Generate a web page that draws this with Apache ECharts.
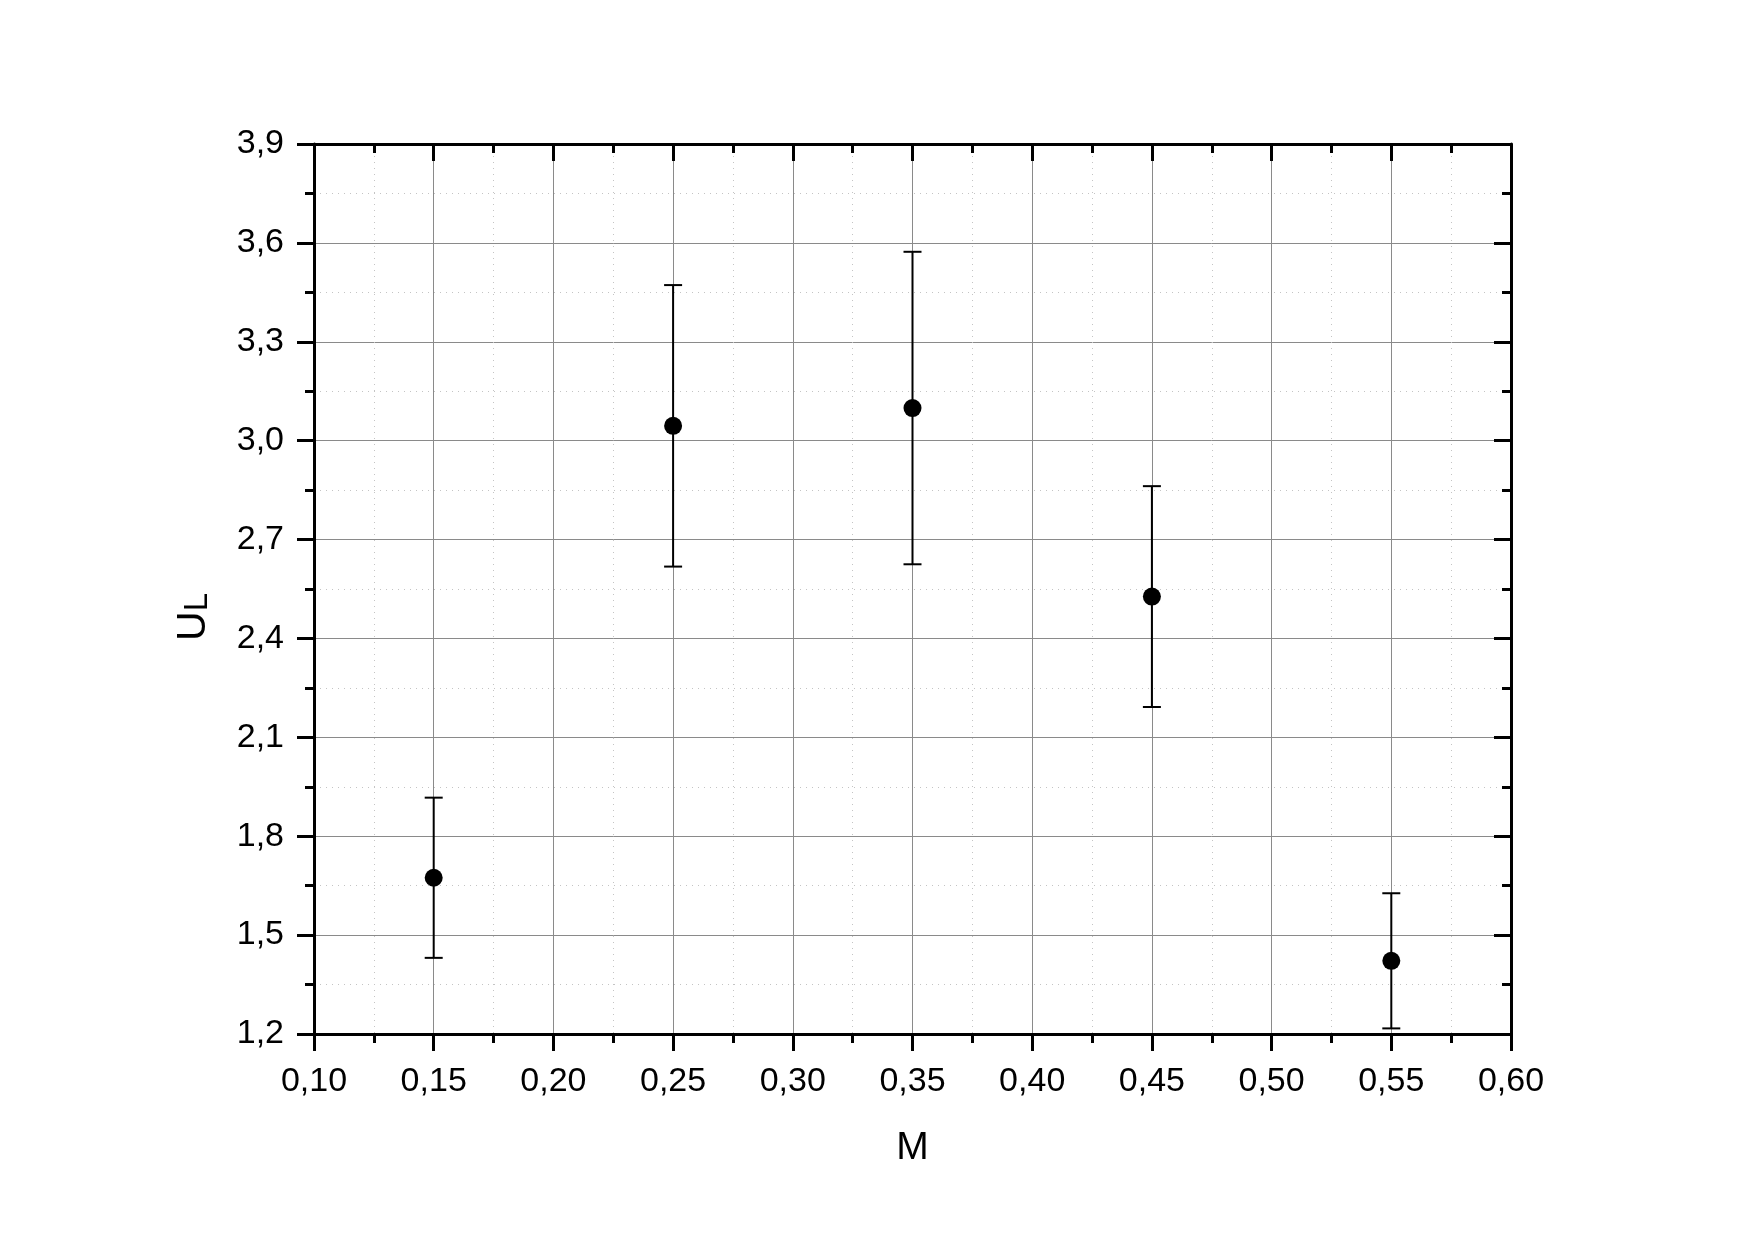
<!DOCTYPE html>
<html>
<head>
<meta charset="utf-8">
<script src="https://cdn.jsdelivr.net/npm/echarts@6/dist/echarts.min.js"></script>
<style>
  html, body { margin: 0; padding: 0; background: #fff; }
  #chart { width: 1755px; height: 1240px; }
</style>
</head>
<body>
<div id="chart"></div>
<script>
// data
const mValues = [0.15, 0.25, 0.35, 0.45, 0.55]
const ulValues = [1.674, 3.045, 3.099, 2.527, 1.422]
const ulErrors = [0.243, 0.427, 0.474, 0.335, 0.205]

const xTicks = { min: 0.10, max: 0.60, interval: 0.05 }
const yTicks = { min: 1.2, max: 3.9, interval: 0.3 }

const FONT = 'Liberation Sans'
const comma = (v, d) => v.toFixed(d).replace('.', ',')

const points = mValues.map((m, i) => [m, ulValues[i]])
const bars = mValues.map((m, i) => [m, ulValues[i] - ulErrors[i], ulValues[i] + ulErrors[i]])

const chart = echarts.init(document.getElementById('chart'))

const baseAxis = (extra) => ({
  type: 'value',
  axisLine: { show: true, onZero: false, lineStyle: { color: '#000', width: 3 } },
  axisTick: { show: true, length: 17, lineStyle: { color: '#000', width: 3 } },
  minorTick: { show: true, splitNumber: 2, length: 9, lineStyle: { color: '#000', width: 3 } },
  ...extra,
})

const option = {
  animation: false,
  backgroundColor: '#fff',
  grid: { left: 314, right: 244, top: 144, bottom: 206 },
  xAxis: [
    baseAxis({
      position: 'bottom',
      min: xTicks.min, max: xTicks.max, interval: xTicks.interval,
      name: 'M',
      nameLocation: 'middle',
      nameGap: 95,
      nameTextStyle: { fontFamily: FONT, fontSize: 39, color: '#000' },
      axisLabel: {
        margin: 31, fontFamily: FONT, fontSize: 34, color: '#000',
        formatter: (v) => comma(v, 2),
      },
      splitLine: { show: true, lineStyle: { color: '#8a8a8a', width: 1 } },
      minorSplitLine: { show: true, lineStyle: { color: '#c4c4c4', width: 1, type: [1, 5] } },
    }),
    baseAxis({
      position: 'top',
      min: xTicks.min, max: xTicks.max, interval: xTicks.interval,
      axisTick: { show: true, inside: true, length: 17, lineStyle: { color: '#000', width: 3 } },
      minorTick: { show: true, splitNumber: 2, length: 9, lineStyle: { color: '#000', width: 3 } },
      axisLabel: { show: false },
      splitLine: { show: false },
    }),
  ],
  yAxis: [
    baseAxis({
      position: 'left',
      min: yTicks.min, max: yTicks.max, interval: yTicks.interval,
      name: '{u|U}{l|L}',
      nameLocation: 'middle',
      nameRotate: 90,
      nameGap: 100,
      nameTextStyle: {
        fontFamily: FONT, color: '#000', padding: [0, 56, 0, 0],
        rich: {
          u: { fontFamily: FONT, fontSize: 41, color: '#000', verticalAlign: 'bottom' },
          l: { fontFamily: FONT, fontSize: 33, color: '#000', verticalAlign: 'bottom' },
        },
      },
      axisLabel: {
        margin: 30, fontFamily: FONT, fontSize: 34, color: '#000',
        formatter: (v) => comma(v, 1),
      },
      splitLine: { show: true, lineStyle: { color: '#8a8a8a', width: 1 } },
      minorSplitLine: { show: true, lineStyle: { color: '#c4c4c4', width: 1, type: [1, 5] } },
    }),
    baseAxis({
      position: 'right',
      min: yTicks.min, max: yTicks.max, interval: yTicks.interval,
      axisTick: { show: true, inside: true, length: 17, lineStyle: { color: '#000', width: 3 } },
      minorTick: { show: true, splitNumber: 2, length: 9, lineStyle: { color: '#000', width: 3 } },
      axisLabel: { show: false },
      splitLine: { show: false },
    }),
  ],
  series: [
    {
      type: 'custom',
      name: 'error',
      xAxisIndex: 0,
      yAxisIndex: 0,
      data: bars,
      z: 3,
      renderItem: (params, api) => {
        const top = api.coord([api.value(0), api.value(2)])
        const bot = api.coord([api.value(0), api.value(1)])
        const half = 9
        const style = { stroke: '#000', lineWidth: 2 }
        return {
          type: 'group',
          children: [
            { type: 'line', shape: { x1: top[0], y1: top[1], x2: bot[0], y2: bot[1] }, style },
            { type: 'line', shape: { x1: top[0] - half, y1: top[1], x2: top[0] + half, y2: top[1] }, style },
            { type: 'line', shape: { x1: bot[0] - half, y1: bot[1], x2: bot[0] + half, y2: bot[1] }, style },
          ],
        }
      },
    },
    {
      type: 'scatter',
      name: 'UL',
      xAxisIndex: 0,
      yAxisIndex: 0,
      data: points,
      symbol: 'circle',
      symbolSize: 18,
      itemStyle: { color: '#000', opacity: 1 },
      z: 4,
    },
  ],
}

chart.setOption(option)
</script>
</body>
</html>
